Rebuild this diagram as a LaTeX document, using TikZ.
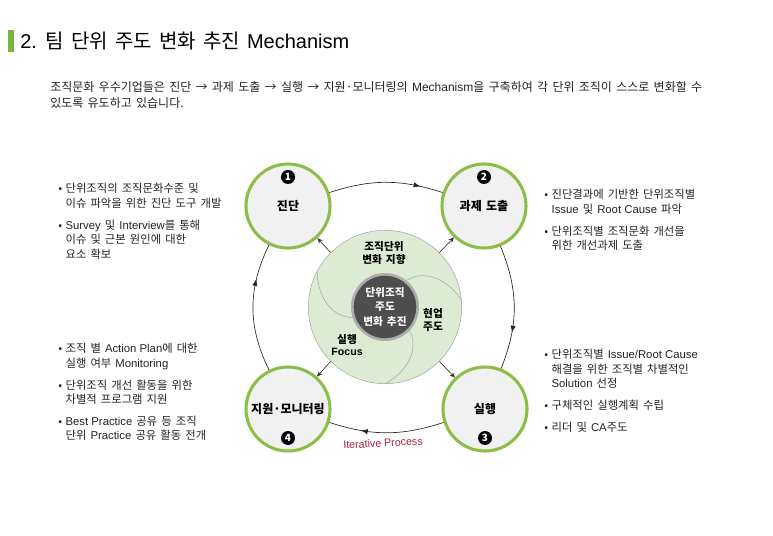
\documentclass[tikz,border=0pt]{standalone}
\usepackage{fontspec}
\setmainfont[WordSpace=1.6]{Noto Sans CJK KR}
\newfontfamily\lat{Liberation Sans}
\usepackage{xcolor}
\usepackage{tikz}
\usetikzlibrary{arrows.meta, positioning, decorations.markings}
\definecolor{leafgreen}{RGB}{140, 189, 70}
\definecolor{bargreen}{RGB}{118, 180, 68}
\definecolor{hubgreen}{RGB}{222, 235, 212}
\definecolor{phasegray}{RGB}{241, 241, 241}
\definecolor{coregray}{RGB}{78, 78, 78}
\definecolor{ringgray}{RGB}{172, 172, 172}
\definecolor{inkgray}{RGB}{35, 35, 35}
\definecolor{loopred}{RGB}{165, 30, 60}
\newcommand{\dotitem}{\makebox[5.5pt][l]{•}}
\newcommand{\dotgap}{\hspace*{5.5pt}}
\newcommand{\en}[1]{{\lat #1}}
\tikzstyle{phase} = [
    circle, 
    minimum size=63pt, 
    inner sep=0pt, 
    draw=leafgreen, 
    line width=2.3pt, 
    fill=phasegray, 
    font=\fontsize{9}{11}\selectfont\bfseries
]
\tikzstyle{badge} = [
    circle, 
    minimum size=10.5pt, 
    inner sep=0pt, 
    fill=black, 
    text=white, 
    font=\fontsize{7.5}{8}\selectfont\bfseries
]
\tikzstyle{hubdisc} = [
    circle, 
    minimum size=115pt, 
    inner sep=0pt, 
    draw=black!35, 
    line width=0.4pt, 
    fill=hubgreen
]
\tikzstyle{coredisc} = [
    circle, 
    minimum size=49pt, 
    inner sep=0pt, 
    align=center, 
    draw=ringgray, 
    line width=2pt, 
    fill=coregray, 
    text=white, 
    font=\fontsize{8}{10.9}\selectfont\bfseries
]
\tikzstyle{hubtext} = [
    align=center, 
    inner sep=0pt, 
    font=\fontsize{8}{9.3}\selectfont\bfseries
]
\tikzstyle{note} = [
    anchor=north west, 
    align=left, 
    inner sep=0pt, 
    text=inkgray, 
    font=\fontsize{8.5}{10.9}\selectfont
]
\tikzstyle{spoke} = [
    -{Stealth[length=4pt, width=3.5pt]}, 
    line width=0.5pt, 
    color=black!80
]
\tikzstyle{swirl} = [
    line width=0.4pt, 
    color=black!35
]
\tikzset{orbit/.style={
    line width=0.5pt, 
    color=black!85, 
    postaction={decorate}, 
    decoration={markings, mark=at position #1 with {\arrow{Latex[length=5pt, width=4pt]}}}
}}

\begin{document}
\begin{tikzpicture}[x=0.75pt, y=0.75pt]
        \useasboundingbox (0,0) rectangle (773,535);

        % Heading
        \fill[bargreen] (8,483) rectangle (14,505);
        \node[anchor=west, inner sep=0pt, font=\fontsize{15}{17}\selectfont] (title) at (20,494) {\en{2.} 팀 단위 주도 변화 추진 \en{Mechanism}};
        \node[note, font=\fontsize{9}{12}\selectfont] (intro) at (50,454) {조직문화 우수기업들은 진단 → 과제 도출 → 실행 → 지원·모니터링의 \en{Mechanism}을 구축하여 각 단위 조직이 스스로 변화할 수\\있도록 유도하고 있습니다.};

        % Hub
        \node[hubdisc] (hub) at (385,228) {};
        \node[coredisc] (core) at (hub.center) {단위조직\\주도\\변화 추진};
        \foreach \a/\b/\o/\i in {152/198/270/180, 5/51/123/33, 270/316/28/298}
            \draw[swirl] (hub.\a) to[out=\o, in=\i] (core.\b);
        \node[hubtext] (aim) at (384,282) {조직단위\\변화 지향};
        \node[hubtext] (field) at (433,215) {현업\\주도};
        \node[hubtext] (focus) at (347,190) {실행\\\en{Focus}};

        % Phases
        \node[phase] (n1) at (288,329) {진단};
        \node[phase] (n2) at (484,329) {과제 도출};
        \node[phase] (n3) at (485,126) {실행};
        \node[phase] (n4) at (288,126) {지원·모니터링};
        \node[badge] (b1) at ([yshift=21.75pt]n1.center) {1};
        \node[badge] (b2) at ([yshift=21.75pt]n2.center) {2};
        \node[badge] (b3) at ([yshift=-21.75pt]n3.center) {3};
        \node[badge] (b4) at ([yshift=-21.75pt]n4.center) {4};

        % Cycle
        \draw[orbit=0.8] (n1) to[bend left=18] (n2);
        \draw[orbit=0.7] (n2) to[bend left=22] (n3);
        \draw[orbit=0.72] (n3) to[bend left=18] (n4);
        \draw[orbit=0.72] (n4) to[bend left=26] (n1);
        \node[text=loopred, rotate=3, font=\lat\fontsize{8}{9}\selectfont] (iter) at (383,92) {Iterative Process};

        % Hub to phases
        \draw[spoke] (hub.135) -- (n1);
        \draw[spoke] (hub.45) -- (n2);
        \draw[spoke] (hub.-45) -- (n3);
        \draw[spoke] (hub.-135) -- (n4);

        % Notes
        \node[note] (t1) at (58,352) {\dotitem 단위조직의 조직문화수준 및\\\dotgap 이슈 파악을 위한 진단 도구 개발\\[5.5pt]\dotitem \en{Survey} 및 \en{Interview}를 통해\\\dotgap 이슈 및 근본 원인에 대한\\\dotgap 요소 확보};
        \node[note] (t2) at (544,346) {\dotitem 진단결과에 기반한 단위조직별\\\dotgap \en{Issue} 및 \en{Root Cause} 파악\\[5.5pt]\dotitem 단위조직별 조직문화 개선을\\\dotgap 위한 개선과제 도출};
        \node[note] (t3) at (544,186) {\dotitem 단위조직별 \en{Issue/Root Cause}\\\dotgap 해결을 위한 조직별 차별적인\\\dotgap \en{Solution} 선정\\[5.5pt]\dotitem 구체적인 실행계획 수립\\[5.5pt]\dotitem 리더 및 \en{CA}주도};
        \node[note] (t4) at (58,192) {\dotitem 조직 별 \en{Action Plan}에 대한\\\dotgap 실행 여부 \en{Monitoring}\\[5.5pt]\dotitem 단위조직 개선 활동을 위한\\\dotgap 차별적 프로그램 지원\\[5.5pt]\dotitem \en{Best Practice} 공유 등 조직\\\dotgap 단위 \en{Practice} 공유 활동 전개};
    \end{tikzpicture}
\end{document}
